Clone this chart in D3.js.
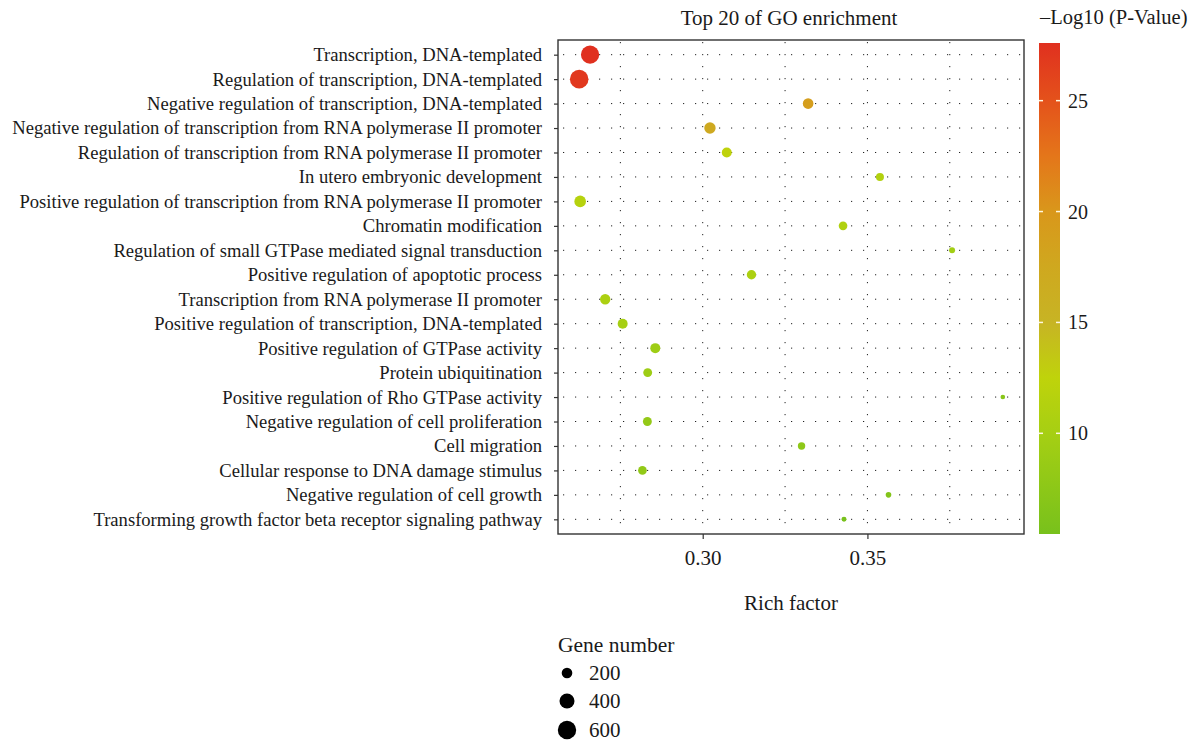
<!DOCTYPE html>
<html>
<head>
<meta charset="utf-8">
<script src="https://cdn.jsdelivr.net/npm/d3@7"></script>
<style>
  body { margin: 0; background: #fff; }
  svg text { font-family: "Liberation Serif", "Times New Roman", serif; fill: #1a1a1a; }
</style>
</head>
<body>
<div id="bubble"></div>
<script>
// Javascript for GO enrichment bubble chart

// Data
var terms = [
  "Transcription, DNA-templated",
  "Regulation of transcription, DNA-templated",
  "Negative regulation of transcription, DNA-templated",
  "Negative regulation of transcription from RNA polymerase II promoter",
  "Regulation of transcription from RNA polymerase II promoter",
  "In utero embryonic development",
  "Positive regulation of transcription from RNA polymerase II promoter",
  "Chromatin modification",
  "Regulation of small GTPase mediated signal transduction",
  "Positive regulation of apoptotic process",
  "Transcription from RNA polymerase II promoter",
  "Positive regulation of transcription, DNA-templated",
  "Positive regulation of GTPase activity",
  "Protein ubiquitination",
  "Positive regulation of Rho GTPase activity",
  "Negative regulation of cell proliferation",
  "Cell migration",
  "Cellular response to DNA damage stimulus",
  "Negative regulation of cell growth",
  "Transforming growth factor beta receptor signaling pathway"
];
var richFactor = [0.2658, 0.2625, 0.3320, 0.3022, 0.3073, 0.3538, 0.2628, 0.3426, 0.3757, 0.3148,
                  0.2704, 0.2757, 0.2856, 0.2833, 0.3911, 0.2832, 0.3300, 0.2817, 0.3564, 0.3429];
var geneNumber = [590, 610, 200, 230, 177, 113, 240, 133, 64, 155,
                  190, 177, 177, 140, 38, 140, 97, 133, 56, 44];
var negLogP = [27.6, 27.0, 19.0, 17.2, 12.6, 11.2, 11.6, 11.0, 9.6, 10.6,
               10.6, 10.0, 9.2, 9.2, 7.0, 8.2, 7.6, 8.0, 6.5, 5.46];

var xTicks = [0.30, 0.35];
var xMinor = [0.275, 0.325, 0.375];
var colourTicks = [10, 15, 20, 25];
var sizeLegend = [200, 400, 600];

// colour ramp sampled from the colour bar
var colourStops = [5.46, 10, 12.5, 15, 17.5, 20, 22.5, 25, 27.6];
var colourRange = ["#78c11c", "#a6cf13", "#bfd30b", "#c7b424", "#cfa81f", "#d9971b", "#e4761a", "#e4521b", "#e0301f"];

var width = 1196;
var height = 744;

// panel position
var margin = { top: 40, left: 558, right: 172, bottom: 210 };
var plotW = width - margin.left - margin.right;
var plotH = height - margin.top - margin.bottom;

var svg = d3.select("#bubble")
  .append("svg")
  .attr("width", width)
  .attr("height", height);

var rows = terms.map(function(t, i) {
  return { term: t, rf: richFactor[i], n: geneNumber[i], p: negLogP[i] };
});

// x scale with ggplot style 5% expansion
var rfMin = d3.min(richFactor), rfMax = d3.max(richFactor);
var pad = (rfMax - rfMin) * 0.05;
var x = d3.scaleLinear()
  .domain([rfMin - pad, rfMax + pad])
  .range([0, plotW]);

// discrete y scale, 0.6 unit expansion each side
var y = d3.scalePoint()
  .domain(terms)
  .range([0, plotH])
  .padding(0.6);

var r = d3.scaleSqrt().domain([0, 600]).range([0, 9.2]);

var colour = d3.scaleLinear()
  .domain(colourStops)
  .range(colourRange);

var g = svg.append("g")
  .attr("transform", "translate(" + margin.left + "," + margin.top + ")");

// dotted grid
g.append("g").attr("class", "grid")
  .selectAll("line.h")
  .data(terms)
  .enter().append("line")
  .attr("x1", 0).attr("x2", plotW)
  .attr("y1", function(d) { return y(d); })
  .attr("y2", function(d) { return y(d); })
  .attr("stroke", "#222").attr("stroke-width", 1)
  .attr("stroke-dasharray", "1.2,10.8")
  .attr("stroke-dashoffset", -5);

g.append("g").attr("class", "grid")
  .selectAll("line.v")
  .data(xTicks.concat(xMinor))
  .enter().append("line")
  .attr("x1", function(d) { return x(d); })
  .attr("x2", function(d) { return x(d); })
  .attr("y1", 0).attr("y2", plotH)
  .attr("stroke", "#222").attr("stroke-width", 1)
  .attr("stroke-dasharray", "1.2,10.8")
  .attr("stroke-dashoffset", -2);

// bubbles
g.append("g")
  .selectAll("circle")
  .data(rows)
  .enter().append("circle")
  .attr("cx", function(d) { return x(d.rf); })
  .attr("cy", function(d) { return y(d.term); })
  .attr("r", function(d) { return r(d.n); })
  .attr("fill", function(d) { return colour(d.p); });

// panel border
g.append("rect")
  .attr("width", plotW).attr("height", plotH)
  .attr("fill", "none")
  .attr("stroke", "#333").attr("stroke-width", 1.4);

// x axis
var xAxis = d3.axisBottom(x)
  .tickValues(xTicks)
  .tickFormat(d3.format(".2f"))
  .tickSize(5)
  .tickPadding(8);

var gx = g.append("g")
  .attr("transform", "translate(0," + plotH + ")")
  .call(xAxis);
gx.select(".domain").remove();
gx.selectAll(".tick line").attr("stroke", "#333").attr("stroke-width", 1.2);
gx.selectAll(".tick text").style("font-size", "21px").attr("dy", "0.85em").attr("fill", "#1a1a1a");

// y axis
var yAxis = d3.axisLeft(y)
  .tickSize(4)
  .tickPadding(12);

var gy = g.append("g").call(yAxis);
gy.select(".domain").remove();
gy.selectAll(".tick line").attr("stroke", "#333").attr("stroke-width", 1.2);
gy.selectAll(".tick text").style("font-size", "18.6px").attr("fill", "#1a1a1a");

// titles
svg.append("text")
  .attr("x", 789)
  .attr("y", 25)
  .attr("text-anchor", "middle")
  .style("font-size", "21px")
  .text("Top 20 of GO enrichment");

svg.append("text")
  .attr("x", margin.left + plotW / 2)
  .attr("y", 610)
  .attr("text-anchor", "middle")
  .style("font-size", "21px")
  .text("Rich factor");

// colour bar legend
var cbX = 1039, cbW = 21;
var cbY = d3.scaleLinear()
  .domain(d3.extent(colourStops))
  .range([margin.top + plotH, margin.top + 3]);

var grad = svg.append("defs").append("linearGradient")
  .attr("id", "cbar")
  .attr("x1", "0").attr("y1", "1").attr("x2", "0").attr("y2", "0");
grad.selectAll("stop")
  .data(colourStops)
  .enter().append("stop")
  .attr("offset", function(d) { return (d - colourStops[0]) / (colourStops[colourStops.length - 1] - colourStops[0]); })
  .attr("stop-color", function(d) { return colour(d); });

svg.append("rect")
  .attr("x", cbX).attr("y", cbY.range()[1])
  .attr("width", cbW).attr("height", cbY.range()[0] - cbY.range()[1])
  .attr("fill", "url(#cbar)");

svg.append("g").selectAll("line")
  .data(colourTicks.concat(colourTicks))
  .enter().append("line")
  .attr("x1", function(d, i) { return i < colourTicks.length ? cbX : cbX + cbW - 4; })
  .attr("x2", function(d, i) { return i < colourTicks.length ? cbX + 4 : cbX + cbW; })
  .attr("y1", function(d) { return cbY(d); })
  .attr("y2", function(d) { return cbY(d); })
  .attr("stroke", "#fff8e0").attr("stroke-width", 1.5);

svg.append("g").selectAll("text")
  .data(colourTicks)
  .enter().append("text")
  .attr("x", cbX + cbW + 8)
  .attr("y", function(d) { return cbY(d); })
  .attr("dy", "0.35em")
  .style("font-size", "20px")
  .text(function(d) { return d; });

svg.append("text")
  .attr("x", cbX + 1)
  .attr("y", 24)
  .style("font-size", "20.5px")
  .text("\u2013Log10 (P-Value)");

// gene number legend
svg.append("text")
  .attr("x", 558)
  .attr("y", 652)
  .style("font-size", "21.5px")
  .text("Gene number");

var sizeKey = svg.append("g").selectAll("g")
  .data(sizeLegend)
  .enter().append("g")
  .attr("transform", function(d, i) { return "translate(567," + [673, 701, 730][i] + ")"; });

sizeKey.append("circle")
  .attr("r", function(d) { return r(d); })
  .attr("fill", "#000");

sizeKey.append("text")
  .attr("x", 22)
  .attr("dy", "0.35em")
  .style("font-size", "21px")
  .text(function(d) { return d; });
</script>
</body>
</html>
